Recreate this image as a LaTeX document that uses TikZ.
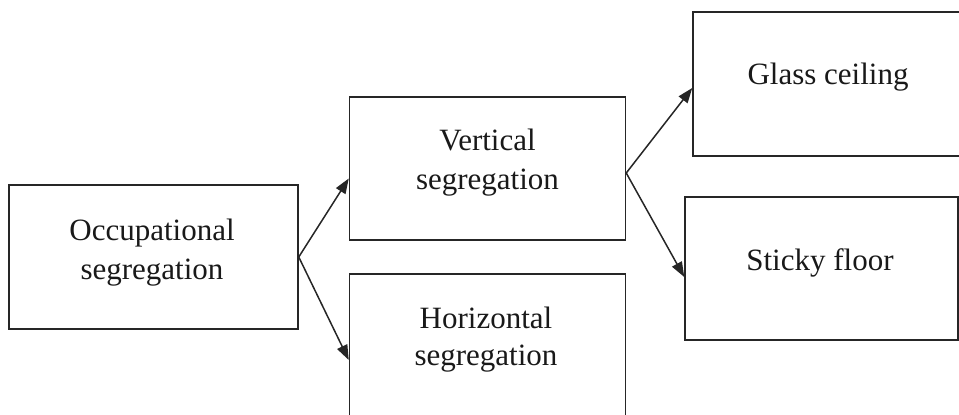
\documentclass[tikz,border=0pt]{standalone}
\usepackage{fontspec}
\setmainfont{Liberation Serif}
\usetikzlibrary{arrows.meta}
\begin{document}
\begin{tikzpicture}[x=1pt,y=-1pt,
  box/.style={draw=black!85,line width=1.5pt,rectangle,inner sep=0pt,
    minimum width=#1},
  lbl/.style={anchor=base,inner sep=0pt,font=\fontsize{31}{37}\selectfont,text=black!90},
  link/.style={draw=black!85,line width=1.5pt,
    -{Triangle[length=15pt,width=11pt]}}]
\useasboundingbox (0,0) rectangle (959,415);
\clip (0,0) rectangle (959,415);

% boxes
\node[box=289pt,minimum height=144pt] (occ)    at (153.5,257)   {};
\node[box=276pt,minimum height=143pt] (vert)   at (487.5,168.5) {};
\node[box=276pt,minimum height=160pt] (horiz)  at (487.5,354)   {};
\node[box=282pt,minimum height=144pt] (glass)  at (834,84)      {};
\node[box=273pt,minimum height=143pt] (sticky) at (821.5,268.5) {};

% labels
\node[lbl] (occa) at (152,240) {Occupational};
\node[lbl] (occb) at (152,279) {segregation};
\node[lbl] (verta) at (487.5,150) {Vertical};
\node[lbl] (vertb) at (487.5,189) {segregation};
\node[lbl] (hora) at (486,328) {Horizontal};
\node[lbl] (horb) at (486,365) {segregation};
\node[lbl] (glassl) at (828,84) {Glass ceiling};
\node[lbl] (stickyl) at (820,270) {Sticky floor};

% connectors
\draw[link] (occ.east) -- ([yshift=-10pt]vert.west);
\draw[link] (occ.east) -- ([yshift=-6pt]horiz.west);
\draw[link] ([yshift=-4.5pt]vert.east) -- ([yshift=-4pt]glass.west);
\draw[link] ([yshift=-4.5pt]vert.east) -- ([yshift=-8.5pt]sticky.west);
\end{tikzpicture}
\end{document}
